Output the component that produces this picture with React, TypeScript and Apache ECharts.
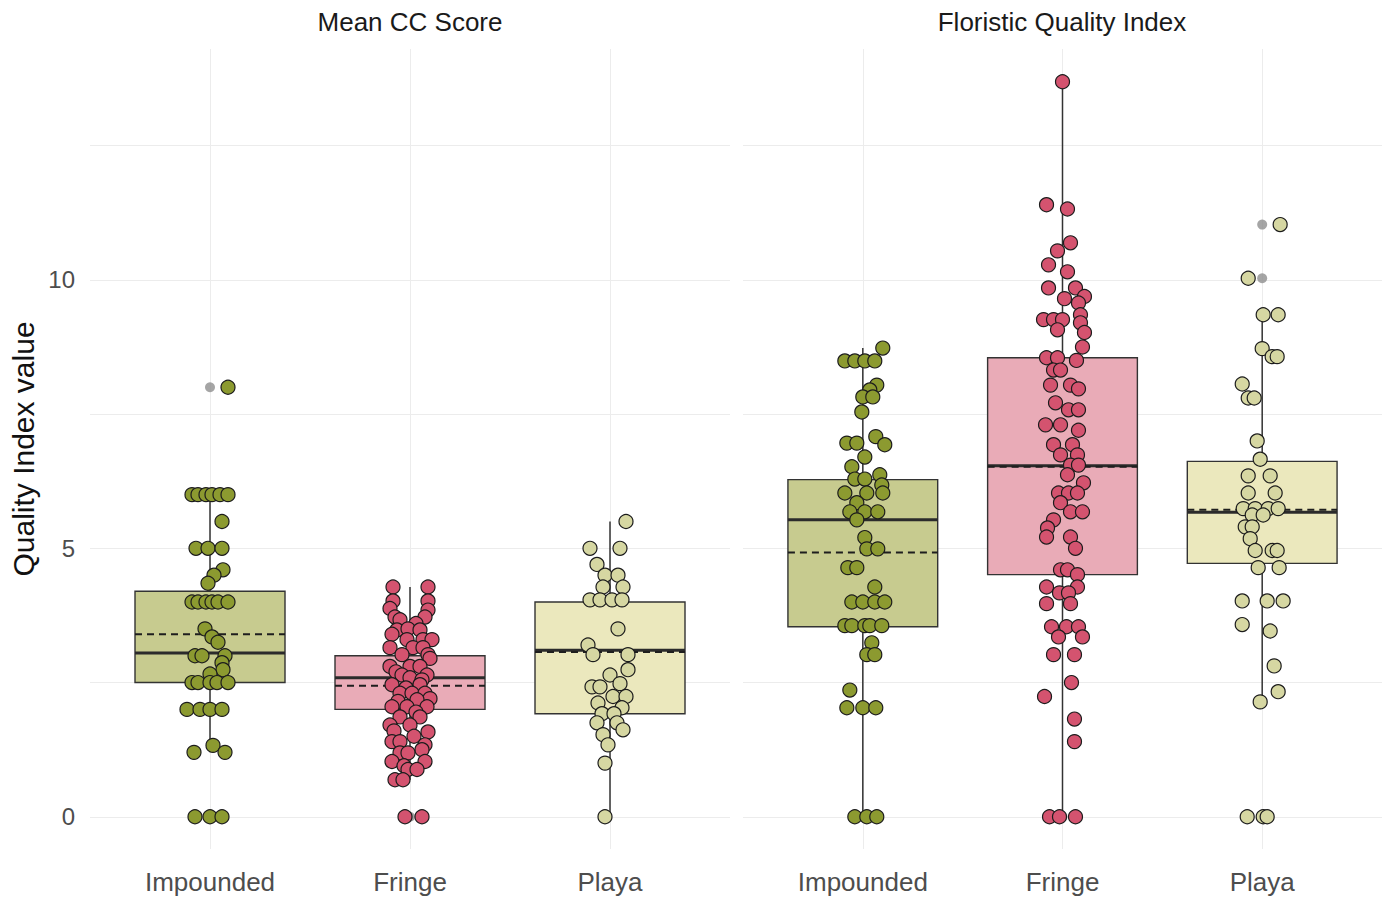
import React, { useEffect, useRef } from "react";
import * as echarts from "echarts";

const panelTitles = ["Mean CC Score", "Floristic Quality Index"];
const categories = ["Impounded", "Fringe", "Playa"];
const yTickValues = [0, 5, 10];
const gridYValues = [0, 2.5, 5, 7.5, 10, 12.5];
const yAxisTitle = "Quality Index value";

// box stats per category: [whiskerLow, q1, median, q3, whiskerHigh, mean]
const ccBoxes = [
  [1.2, 2.5, 3.05, 4.2, 6.0, 3.4],
  [0.69, 2.0, 2.59, 3.0, 4.28, 2.44],
  [0, 1.92, 3.1, 4.0, 5.5, 3.07],
];
const fqiBoxes = [
  [0, 3.54, 5.53, 6.28, 8.73, 4.92],
  [0, 4.51, 6.54, 8.55, 13.69, 6.52],
  [2.14, 4.72, 5.67, 6.62, 9.35, 5.72],
];
// boxplot outliers (drawn at category centre)
const ccOutliers = [[8, 0], [0], []];
const fqiOutliers = [[0], [0], [11.03, 10.03, 0]];

// jittered observations: [jitter offset (category units), value]
const ccImpounded = [
  [0.09, 8],
  [-0.09, 6], [-0.06, 6], [-0.02, 6], [0.01, 6], [0.05, 6], [0.09, 6],
  [0.06, 5.5],
  [-0.07, 5], [-0.01, 5], [0.06, 5],
  [0.065, 4.6], [0.02, 4.5], [-0.01, 4.35],
  [-0.09, 4], [-0.06, 4], [-0.02, 4], [0.01, 4], [0.04, 4], [0.09, 4],
  [-0.025, 3.5], [0.01, 3.35], [0.04, 3.25],
  [-0.075, 3], [-0.04, 3], [0.075, 3],
  [0.06, 2.87], [0.065, 2.74], [0.0, 2.66],
  [-0.09, 2.5], [-0.06, 2.5], [0.0, 2.5], [0.035, 2.5], [0.09, 2.5],
  [-0.115, 2], [-0.05, 2], [0.0, 2], [0.06, 2],
  [0.015, 1.33], [-0.08, 1.2], [0.075, 1.2],
  [-0.075, 0], [0.0, 0], [0.06, 0],
];
const ccFringe = [
  [-0.085, 4.28], [0.09, 4.28],
  [-0.085, 4.02], [0.09, 4.02],
  [-0.1, 3.88], [0.09, 3.85],
  [-0.075, 3.72], [0.075, 3.72], [-0.05, 3.67], [0.03, 3.6],
  [-0.065, 3.48], [-0.01, 3.5], [0.05, 3.48], [-0.09, 3.4],
  [-0.015, 3.3], [0.065, 3.3], [0.11, 3.3],
  [-0.1, 3.15], [0.015, 3.15], [0.065, 3.15],
  [-0.04, 3.02], [0.09, 3.02], [0.1, 2.95],
  [-0.1, 2.8], [0.0, 2.8], [0.05, 2.8], [-0.07, 2.7],
  [-0.04, 2.64], [0.085, 2.64], [0.0, 2.59], [0.06, 2.55],
  [-0.09, 2.46], [0.05, 2.46], [-0.02, 2.4],
  [-0.05, 2.3], [0.01, 2.3], [0.075, 2.3],
  [0.1, 2.2], [0.035, 2.18], [-0.06, 2.15],
  [-0.09, 2.05], [-0.015, 2.05], [0.085, 2.05], [0.03, 1.95],
  [-0.05, 1.86], [0.05, 1.86],
  [-0.1, 1.71], [0.0, 1.71], [-0.08, 1.6],
  [0.09, 1.58], [0.02, 1.5],
  [-0.09, 1.4], [-0.05, 1.4], [0.075, 1.34], [0.06, 1.25],
  [-0.05, 1.19], [-0.01, 1.19],
  [-0.09, 1.03], [0.075, 1.03], [-0.03, 0.95],
  [-0.01, 0.88], [0.035, 0.88],
  [-0.075, 0.69], [-0.035, 0.69],
  [-0.025, 0], [0.06, 0],
];
const ccPlaya = [
  [0.08, 5.5],
  [-0.1, 5], [0.05, 5],
  [-0.065, 4.7], [-0.025, 4.5], [0.04, 4.5],
  [-0.035, 4.28], [0.065, 4.28],
  [-0.1, 4.04], [-0.05, 4.04], [0.01, 4.04], [0.06, 4.04],
  [0.04, 3.5],
  [-0.11, 3.2],
  [-0.085, 3.02], [0.09, 3.02],
  [0.09, 2.74], [0.0, 2.64],
  [-0.09, 2.42], [-0.05, 2.42], [0.05, 2.48],
  [0.015, 2.24], [0.08, 2.24],
  [-0.06, 2.12], [0.06, 2.03],
  [-0.04, 1.92], [0.02, 1.92],
  [-0.065, 1.75], [0.035, 1.75],
  [0.065, 1.62], [-0.035, 1.53],
  [-0.01, 1.34],
  [-0.025, 1.0],
  [-0.025, 0],
];
const fqiImpounded = [
  [0.1, 8.73],
  [-0.09, 8.49], [-0.04, 8.49], [0.01, 8.49], [0.06, 8.49],
  [0.07, 8.04], [0.035, 7.95], [0.0, 7.82], [0.05, 7.82],
  [-0.005, 7.54],
  [0.065, 7.08], [-0.08, 6.96], [-0.03, 6.96], [0.11, 6.93],
  [0.01, 6.7], [-0.055, 6.52], [0.085, 6.37],
  [-0.04, 6.29], [0.01, 6.29], [0.095, 6.18],
  [-0.09, 6.03], [0.02, 6.03], [0.1, 6.03],
  [-0.03, 5.85],
  [-0.065, 5.68], [0.01, 5.68], [0.075, 5.68],
  [-0.03, 5.53],
  [0.01, 5.2],
  [0.02, 4.99], [0.075, 4.99],
  [-0.075, 4.64], [-0.03, 4.64],
  [0.06, 4.28],
  [-0.055, 4.0], [0.0, 4.0], [0.06, 4.0], [0.11, 4.0],
  [-0.09, 3.56], [-0.055, 3.56], [0.01, 3.56], [0.035, 3.56], [0.095, 3.56],
  [0.045, 3.24],
  [0.02, 3.02], [0.06, 3.02],
  [-0.065, 2.36],
  [-0.08, 2.03], [0.0, 2.03], [0.065, 2.03],
  [-0.04, 0], [0.02, 0], [0.07, 0],
];
const fqiFringe = [
  [0.0, 13.69],
  [-0.08, 11.4], [0.025, 11.32],
  [0.04, 10.69], [-0.025, 10.54], [-0.07, 10.28], [0.025, 10.15],
  [-0.07, 9.85], [0.065, 9.85], [0.11, 9.69], [0.01, 9.65], [0.08, 9.57],
  [0.09, 9.35], [-0.095, 9.26], [-0.045, 9.26], [0.0, 9.26], [0.09, 9.2],
  [-0.025, 9.07], [0.11, 9.02], [0.1, 8.75],
  [-0.08, 8.55], [-0.025, 8.55], [0.07, 8.5],
  [-0.045, 8.32], [-0.01, 8.32],
  [-0.06, 8.04], [0.04, 8.04], [0.08, 7.97],
  [-0.035, 7.71], [0.03, 7.58], [0.08, 7.58],
  [-0.085, 7.3], [-0.01, 7.3], [0.08, 7.2],
  [-0.045, 6.93], [0.05, 6.93],
  [-0.01, 6.74], [0.075, 6.74],
  [0.04, 6.55], [0.08, 6.55],
  [0.025, 6.37], [0.105, 6.22],
  [-0.02, 6.03], [0.03, 6.03], [0.075, 6.03],
  [-0.01, 5.85],
  [0.04, 5.68], [0.1, 5.68],
  [-0.045, 5.53], [-0.075, 5.38],
  [-0.08, 5.21], [0.04, 5.21],
  [0.065, 5.0],
  [-0.01, 4.6], [0.025, 4.6], [0.075, 4.51],
  [-0.08, 4.28], [0.075, 4.28],
  [-0.015, 4.17], [0.03, 4.17],
  [-0.08, 3.97], [0.04, 3.97],
  [-0.055, 3.54], [0.02, 3.54], [0.08, 3.54],
  [-0.02, 3.35], [0.1, 3.35],
  [-0.045, 3.02], [0.06, 3.02],
  [0.045, 2.5],
  [-0.09, 2.24],
  [0.06, 1.82],
  [0.06, 1.4],
  [-0.065, 0], [-0.015, 0], [0.065, 0],
];
const fqiPlaya = [
  [0.09, 11.03],
  [-0.07, 10.03],
  [0.005, 9.35], [0.08, 9.35],
  [0.0, 8.72], [0.05, 8.57], [0.075, 8.57],
  [-0.1, 8.06],
  [-0.07, 7.8], [-0.04, 7.8],
  [-0.025, 7.0],
  [-0.01, 6.66],
  [-0.07, 6.35], [0.04, 6.35],
  [-0.07, 6.03], [0.065, 6.03],
  [-0.095, 5.74], [-0.035, 5.74], [0.03, 5.74], [0.08, 5.74],
  [-0.05, 5.62], [0.005, 5.62],
  [-0.085, 5.4], [-0.05, 5.4],
  [-0.06, 5.18],
  [-0.035, 4.96], [0.05, 4.96], [0.075, 4.96],
  [-0.02, 4.64], [0.085, 4.64],
  [-0.1, 4.02], [0.025, 4.02], [0.105, 4.02],
  [-0.1, 3.58], [0.04, 3.46],
  [0.06, 2.81],
  [0.08, 2.33],
  [-0.01, 2.14],
  [-0.075, 0], [0.005, 0], [0.025, 0],
];

const pointColors = ["#8c9a30", "#d4536f", "#d6d7a2"];
const boxFills = ["#c7cb8f", "#e9abb7", "#ebe8bd"];

const FONT = "'Liberation Sans', Arial, sans-serif";

function makeRenderBox() {
  return (params: any, api: any) => {
    const x = api.value(0);
    const lo = api.value(1);
    const q1 = api.value(2);
    const med = api.value(3);
    const q3 = api.value(4);
    const hi = api.value(5);
    const mean = api.value(6);
    const half = 0.375;
    const tl = api.coord([x - half, q3]);
    const br = api.coord([x + half, q1]);
    const pLo = api.coord([x, lo]);
    const pHi = api.coord([x, hi]);
    const pQ1 = api.coord([x, q1]);
    const pQ3 = api.coord([x, q3]);
    const mL = api.coord([x - half, med]);
    const mR = api.coord([x + half, med]);
    const aL = api.coord([x - half, mean]);
    const aR = api.coord([x + half, mean]);
    const fill = boxFills[params.dataIndex];
    return {
      type: "group",
      children: [
        { type: "line", shape: { x1: pLo[0], y1: pLo[1], x2: pQ1[0], y2: pQ1[1] }, style: { stroke: "#333333", lineWidth: 1.5 } },
        { type: "line", shape: { x1: pQ3[0], y1: pQ3[1], x2: pHi[0], y2: pHi[1] }, style: { stroke: "#333333", lineWidth: 1.5 } },
        {
          type: "rect",
          shape: { x: tl[0], y: tl[1], width: br[0] - tl[0], height: br[1] - tl[1] },
          style: { fill, stroke: "#333333", lineWidth: 1.4 },
        },
        { type: "line", shape: { x1: mL[0], y1: mL[1], x2: mR[0], y2: mR[1] }, style: { stroke: "#2b2b2b", lineWidth: 3 } },
        {
          type: "line",
          shape: { x1: aL[0], y1: aL[1], x2: aR[0], y2: aR[1] },
          style: { stroke: "#1e1e1e", lineWidth: 2, lineDash: [7, 5] },
        },
      ],
    };
  };
}

export default function App() {
  const ref = useRef<HTMLDivElement>(null);
  useEffect(() => {
    if (!ref.current) return;
    const chart = echarts.init(ref.current, undefined, { renderer: "svg" });

    const panelBoxes = [ccBoxes, fqiBoxes];
    const panelOutliers = [ccOutliers, fqiOutliers];
    const panelPoints = [
      [ccImpounded, ccFringe, ccPlaya],
      [fqiImpounded, fqiFringe, fqiPlaya],
    ];

    const series: any[] = [];
    [0, 1].forEach((p) => {
      series.push({
        type: "scatter",
        xAxisIndex: p,
        yAxisIndex: p,
        data: [],
        z: 0,
        silent: true,
        markLine: {
          z: 0,
          silent: true,
          symbol: "none",
          label: { show: false },
          lineStyle: { color: "#ececec", width: 1, type: "solid" },
          data: [
            ...gridYValues.map((v) => ({ yAxis: v })),
            ...categories.map((_, i) => ({ xAxis: i })),
          ],
        },
      });
      series.push({
        type: "custom",
        xAxisIndex: p,
        yAxisIndex: p,
        z: 2,
        silent: true,
        renderItem: makeRenderBox(),
        encode: { x: 0, y: [1, 2, 3, 4, 5] },
        data: panelBoxes[p].map((b, i) => [i, ...b]),
      });
      series.push({
        type: "scatter",
        xAxisIndex: p,
        yAxisIndex: p,
        z: 3,
        symbolSize: 10,
        itemStyle: { color: "#8e8e8e" },
        data: panelOutliers[p].flatMap((vals, i) => vals.map((v) => [i, v])),
      });
      panelPoints[p].forEach((pts, i) => {
        series.push({
          type: "scatter",
          xAxisIndex: p,
          yAxisIndex: p,
          z: 4,
          symbolSize: 14,
          itemStyle: { color: pointColors[i], borderColor: "#1c1c1c", borderWidth: 1.2, opacity: 1 },
          data: pts.map(([dx, v]) => [i + dx, v]),
        });
      });
    });

    const xAxisBase = (gi: number) => ({
      type: "value",
      gridIndex: gi,
      min: -0.6,
      max: 2.6,
      axisLine: { show: false },
      axisTick: { show: false },
      splitLine: { show: false },
      axisLabel: {
        customValues: [0, 1, 2],
        formatter: (v: number) => categories[Math.round(v)] ?? "",
        color: "#4d4d4d",
        fontSize: 26,
        fontFamily: FONT,
        margin: 20,
      },
    });
    const yAxisBase = (gi: number) => ({
      type: "value",
      gridIndex: gi,
      min: -0.6,
      max: 14.3,
      axisLine: { show: false },
      axisTick: { show: false },
      splitLine: { show: false },
      axisLabel: {
        show: gi === 0,
        customValues: yTickValues,
        color: "#4d4d4d",
        fontSize: 24,
        fontFamily: FONT,
        margin: 15,
      },
      name: gi === 0 ? yAxisTitle : "",
      nameLocation: "middle",
      nameRotate: 90,
      nameGap: 52,
      nameTextStyle: { color: "#111111", fontSize: 30, fontFamily: FONT },
    });

    chart.setOption({
      animation: false,
      backgroundColor: "#ffffff",
      grid: [
        { left: 90, top: 49, width: 640, height: 800 },
        { left: 743, top: 49, width: 639, height: 800 },
      ],
      xAxis: [xAxisBase(0), xAxisBase(1)],
      yAxis: [yAxisBase(0), yAxisBase(1)],
      graphic: [
        {
          type: "text",
          x: 410,
          y: 22,
          style: { text: panelTitles[0], fontSize: 26, fill: "#1a1a1a", fontFamily: FONT, textAlign: "center", textVerticalAlign: "middle" },
        },
        {
          type: "text",
          x: 1062,
          y: 22,
          style: { text: panelTitles[1], fontSize: 26, fill: "#1a1a1a", fontFamily: FONT, textAlign: "center", textVerticalAlign: "middle" },
        },
      ],
      series,
    });

    return () => chart.dispose();
  }, []);

  return (
    <div
      ref={ref}
      style={{ position: "absolute", left: 0, top: 0, width: 1396, height: 898 }}
    />
  );
}
